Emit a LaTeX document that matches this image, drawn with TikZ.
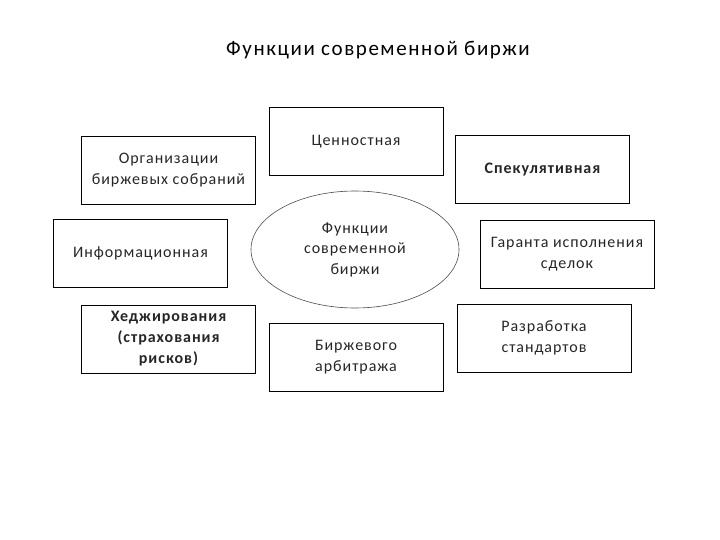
\documentclass[tikz,border=0pt]{standalone}
\usepackage{fontspec}
\setmainfont{Carlito}
\newfontfamily\boxfont[LetterSpace=6]{Carlito}
\newfontfamily\titlefont[LetterSpace=7.5]{Carlito}
\usetikzlibrary{shapes.geometric}
\begin{document}
\begin{tikzpicture}[x=1pt,y=-1pt,
  fbox/.style={draw=black, line width=0.8pt, minimum width=174pt, minimum height=68pt, align=center, inner sep=0pt, font=\boxfont\fontsize{16}{21.5}\selectfont, text=black!85},
  boldbox/.style={fbox, font=\boxfont\bfseries\fontsize{16}{21}\selectfont},
  fell/.style={draw=black!70, line width=0.6pt, ellipse, minimum width=208pt, minimum height=117pt, inner sep=0pt, align=center, font=\boxfont\fontsize{16}{20.5}\selectfont, text=black!85}]
\useasboundingbox (0,0) rectangle (720,540);
\node[font=\titlefont\fontsize{21}{24}\selectfont] (title) at (378,50) {Функции современной биржи};
\node[fbox] (org) at (168.5,170) {Организации\\биржевых собраний};
\node[fbox] (inf) at (140.5,253) {Информационная};
\node[boldbox] (hedge) at (168.5,339) {Хеджирования\\(страхования\\рисков)};
\node[fbox] (cen) at (356,141.5) {Ценностная};
\node[fell] (core) at (355,249.5) {Функции\\современной\\биржи};
\node[fbox] (arb) at (356,357) {Биржевого\\арбитража};
\node[boldbox] (spec) at (542.5,169.5) {Спекулятивная};
\node[fbox] (gar) at (567,254) {Гаранта исполнения\\сделок};
\node[fbox] (razr) at (544,338) {Разработка\\стандартов};
\end{tikzpicture}
\end{document}
